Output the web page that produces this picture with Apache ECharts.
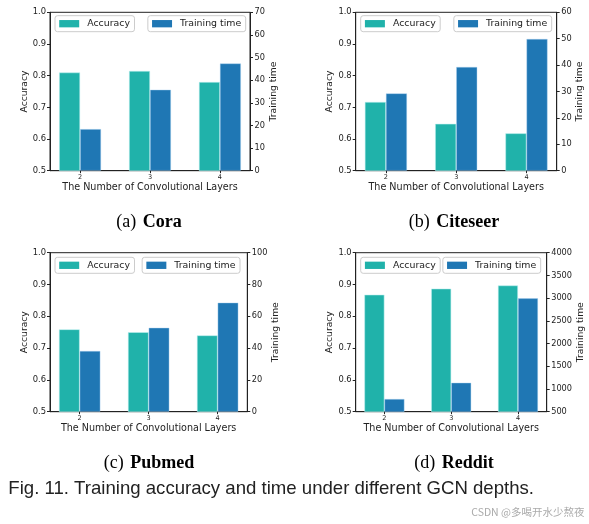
<!DOCTYPE html>
<html>
<head>
<meta charset="utf-8">
<script src="https://cdn.jsdelivr.net/npm/echarts@6/dist/echarts.min.js"></script>
<style>
  html, body { margin: 0; padding: 0; background: #fff; }
  #chart { width: 589px; height: 524px; }
</style>
</head>
<body>
<div id="chart"></div>
<script>
// ---------- data ----------
const categories = ['2', '3', '4'];
const xPositions = [0, 1, 2];

const coraAccuracy = [0.81, 0.815, 0.78];
const coraTime = [18.4, 35.8, 47.4];

const citeseerAccuracy = [0.717, 0.648, 0.618];
const citeseerTime = [29.3, 39.3, 49.9];

const pubmedAccuracy = [0.759, 0.75, 0.74];
const pubmedTime = [38.2, 52.8, 68.6];

const redditAccuracy = [0.868, 0.887, 0.897];
const redditTime = [780, 1138, 2996];

const accuracyRange = [0.5, 1.0, 0.1];
const coraTimeRange = [0, 70, 10];
const citeseerTimeRange = [0, 60, 10];
const pubmedTimeRange = [0, 100, 20];
const redditTimeRange = [500, 4000, 500];

const captions = [
  ['(a)', 'Cora'],
  ['(b)', 'Citeseer'],
  ['(c)', 'Pubmed'],
  ['(d)', 'Reddit']
];
const figCaption = 'Fig. 11. Training accuracy and time under different GCN depths.';
const watermark = 'CSDN @多喝开水少熬夜';

// ---------- layout ----------
const panels = [
  { left: 50, top: 12.3, width: 200, height: 158.4, acc: coraAccuracy, time: coraTime, tr: coraTimeRange, rGap: 18, leg2Right: 343.3, legTop: 15.7 },
  { left: 355.7, top: 12.3, width: 201, height: 158.4, acc: citeseerAccuracy, time: citeseerTime, tr: citeseerTimeRange, rGap: 16, leg2Right: 37.3, legTop: 15.7 },
  { left: 50, top: 252.7, width: 197.3, height: 159, acc: pubmedAccuracy, time: pubmedTime, tr: pubmedTimeRange, rGap: 21, leg2Right: 349, legTop: 257.3 },
  { left: 355.7, top: 252.7, width: 191, height: 159, acc: redditAccuracy, time: redditTime, tr: redditTimeRange, rGap: 26, leg2Right: 48.3, legTop: 257.3 }
];

const ACC_COLOR = '#20b2aa';
const TIME_COLOR = '#1f77b4';
const FONT = 'DejaVu Sans';
const TXT = '#222222';

const grid = [], xAxis = [], yAxis = [], series = [], legend = [];

panels.forEach((p, i) => {
  grid.push({
    left: p.left, top: p.top, width: p.width, height: p.height,
    show: true, borderColor: '#222', borderWidth: 1, backgroundColor: 'transparent',
    containLabel: false
  });
  xAxis.push({
    type: 'value', gridIndex: i, min: -0.43, max: 2.43,
    name: 'The Number of Convolutional Layers', nameLocation: 'middle', nameGap: 11,
    nameTextStyle: { fontFamily: FONT, fontSize: 9.6, color: TXT },
    axisLine: { show: true, onZero: false, lineStyle: { color: '#222', width: 1 } },
    axisTick: { show: true, length: 2.5, customValues: xPositions, lineStyle: { color: '#222' } },
    axisLabel: {
      customValues: xPositions, margin: 3.5, fontFamily: FONT, fontSize: 6.5, color: TXT,
      formatter: v => categories[Math.round(v)]
    },
    splitLine: { show: false }
  });
  yAxis.push({
    type: 'value', gridIndex: i, position: 'left',
    min: accuracyRange[0], max: accuracyRange[1], interval: accuracyRange[2],
    name: 'Accuracy', nameLocation: 'middle', nameGap: 19,
    nameTextStyle: { fontFamily: FONT, fontSize: 9.2, color: TXT },
    axisLine: { show: true, onZero: false, lineStyle: { color: '#222', width: 1 } },
    axisTick: { show: true, length: 3, lineStyle: { color: '#222' } },
    axisLabel: { margin: 4, fontFamily: FONT, fontSize: 8.4, color: TXT, formatter: v => v.toFixed(1) },
    splitLine: { show: false }
  });
  yAxis.push({
    type: 'value', gridIndex: i, position: 'right',
    min: p.tr[0], max: p.tr[1], interval: p.tr[2],
    name: 'Training time', nameLocation: 'middle', nameGap: p.rGap,
    nameTextStyle: { fontFamily: FONT, fontSize: 9.2, color: TXT },
    axisLine: { show: true, onZero: false, lineStyle: { color: '#222', width: 1 } },
    axisTick: { show: true, length: 3, lineStyle: { color: '#222' } },
    axisLabel: { margin: 4.5, fontFamily: FONT, fontSize: 8.2, color: TXT, formatter: v => String(v) },
    splitLine: { show: false }
  });
  series.push({
    type: 'bar', name: 'Accuracy', xAxisIndex: i, yAxisIndex: 2 * i,
    data: xPositions.map((x, k) => [x, p.acc[k]]),
    barWidth: '30%', barGap: '0%', clip: true,
    itemStyle: { color: ACC_COLOR, borderColor: 'rgba(190,240,240,0.9)', borderWidth: 0.6 },
    emphasis: { disabled: true }
  });
  series.push({
    type: 'bar', name: 'Training time', xAxisIndex: i, yAxisIndex: 2 * i + 1,
    data: xPositions.map((x, k) => [x, p.time[k]]),
    barWidth: '30%', barGap: '0%', clip: true,
    itemStyle: { color: TIME_COLOR, borderColor: 'rgba(170,210,240,0.7)', borderWidth: 0.6 },
    emphasis: { disabled: true }
  });
  const legCommon = {
    top: p.legTop, orient: 'horizontal',
    itemWidth: 20, itemHeight: 7.3, icon: 'rect',
    itemStyle: { borderWidth: 0 },
    padding: [3.5, 4.5, 3.5, 4.2],
    borderColor: '#cccccc', borderWidth: 1, borderRadius: 2.5, backgroundColor: '#fff',
    textStyle: { fontFamily: FONT, fontSize: 9.4, color: TXT, padding: [0, 0, 0, 3] },
    selectedMode: false
  };
  legend.push(Object.assign({}, legCommon, { data: ['Accuracy'], left: p.left + 5 }));
  legend.push(Object.assign({}, legCommon, { data: ['Training time'], right: p.leg2Right }));
});

const capPos = [[149, 222], [454, 222], [149, 463.5], [454, 463.5]];
const graphic = captions.map((c, i) => ({
  type: 'text', x: capPos[i][0], y: capPos[i][1],
  style: {
    text: '{n|' + c[0] + '}  {b|' + c[1] + '}',
    align: 'center', verticalAlign: 'middle',
    rich: {
      n: { fontFamily: 'Liberation Serif', fontSize: 18, color: '#111' },
      b: { fontFamily: 'Liberation Serif', fontSize: 18, fontWeight: 'bold', color: '#111' }
    }
  }
}));
graphic.push({
  type: 'text', x: 8.3, y: 488.5,
  style: { text: figCaption, fontFamily: 'Liberation Sans', fontSize: 18.6, fill: '#222', align: 'left', verticalAlign: 'middle' }
});
graphic.push({
  type: 'text', x: 584.5, y: 512.5,
  style: { text: watermark, fontFamily: 'Noto Sans CJK SC', fontSize: 10.5, fill: '#aaaaaa', align: 'right', verticalAlign: 'middle' }
});

const chart = echarts.init(document.getElementById('chart'), null, { renderer: 'canvas' });
chart.setOption({
  animation: false,
  backgroundColor: '#fff',
  grid, xAxis, yAxis, series, legend, graphic
});
</script>
</body>
</html>
